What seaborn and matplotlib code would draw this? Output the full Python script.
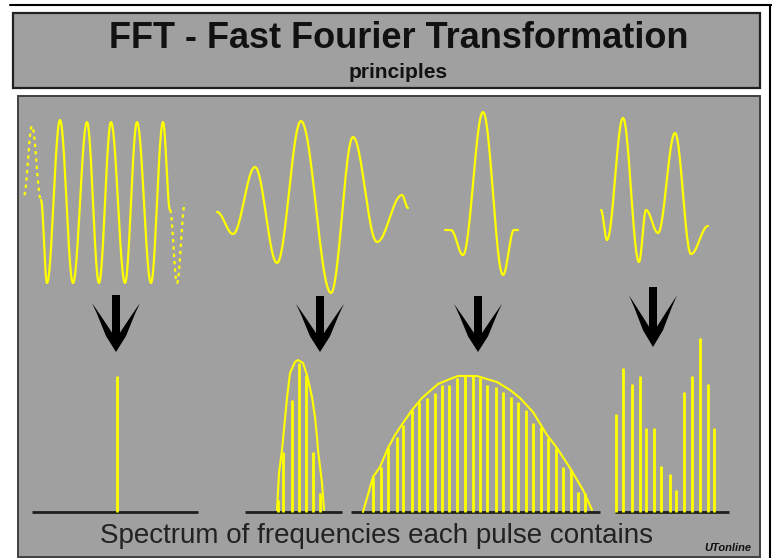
import numpy as np
import matplotlib
matplotlib.use("Agg")
import matplotlib.pyplot as plt
import seaborn as sns
import pandas as pd

# --- data (pixel units, y grows downward) ---

# pulse 1: pure sine, extremes of the solid part and the dotted continuations
wave1_x = [41, 47, 60, 73, 87, 99, 111, 125, 137, 151, 163, 170]
wave1_y = [200, 283, 120, 283, 122, 283, 122, 283, 122, 283, 122, 210]
wave1_left_x = [24, 32, 41]
wave1_left_y = [195, 126, 200]
wave1_right_x = [170, 177, 185]
wave1_right_y = [210, 283, 203]

# pulse 2: wave packet
wave2_x = [217, 233, 255, 277, 301, 331, 353, 377, 402, 408]
wave2_y = [212, 234, 167, 263, 121, 293, 137, 242, 195, 208]

# pulse 3: short pulse
wave3_x = [445, 451, 463, 483, 503, 514, 518]
wave3_y = [230, 230, 255, 112, 275, 230, 230]

# pulse 4: mixed pulse
wave4_x = [601, 607, 623, 639, 646, 658, 675, 691, 708]
wave4_y = [210, 240, 118, 262, 210, 233, 133, 254, 226]

# arrows (centre x, top y, tip y)
arrow_x = [116, 320, 478, 653]
arrow_top = [295, 296, 296, 287]
arrow_tip = [352, 352, 352, 347]

# spectra
baseline_y = 512
base_start = [32, 245, 351, 615]
base_end = [198, 342, 600, 729]

spec1_x = [117]
spec1_top = [376]

spec2_x = [278, 283, 292, 299, 306, 313, 320]
spec2_top = [500, 452, 400, 363, 375, 452, 493]
env2_x = [277, 279, 282, 287, 290, 295, 298, 303, 307, 312, 315, 317, 318, 322, 324]
env2_y = [510, 473, 450, 398, 373, 362, 360, 363, 375, 397, 417, 437, 450, 483, 510]

spec3_x = [373, 381, 388, 397, 403, 412, 419, 427, 435, 442, 449, 457, 465, 473, 480,
           487, 496, 503, 511, 518, 526, 533, 541, 548, 556, 563, 571, 578, 585]
spec3_top = [477, 467, 448, 437, 425, 410, 402, 398, 393, 385, 385, 378, 376, 376, 378,
             385, 387, 392, 397, 402, 410, 423, 427, 438, 448, 467, 470, 492, 493]
env3_x = [363, 373, 380, 388, 395, 403, 412, 422, 438, 450, 458, 467, 477, 480, 497,
          510, 520, 533, 547, 557, 570, 583, 592]
env3_y = [512, 477, 467, 448, 435, 423, 410, 398, 384, 379, 376, 376, 376, 377, 382,
          390, 398, 412, 435, 448, 468, 490, 510]

spec4_x = [616, 623, 632, 640, 646, 654, 661, 670, 676, 684, 692, 700, 708, 714]
spec4_top = [414, 368, 384, 376, 428, 428, 466, 474, 490, 392, 376, 338, 384, 428]

GRAY = "#a0a0a0"
YELLOW = "#ffff00"


def smooth(xs, ys, n=24):
    # half-cosine easing between consecutive extremes of a drawn wave
    px, py = [], []
    for i in range(len(xs) - 1):
        t = np.linspace(0, 1, n, endpoint=False)
        px.extend(xs[i] + (xs[i + 1] - xs[i]) * t)
        py.extend(ys[i] + (ys[i + 1] - ys[i]) * (1 - np.cos(np.pi * t)) / 2)
    px.append(xs[-1])
    py.append(ys[-1])
    return pd.DataFrame({"x": px, "y": py})


sns.set_style("white")
fig = plt.figure(figsize=(7.72, 5.58), dpi=100)
ax = fig.add_axes([0, 0, 1, 1])
ax.set_xlim(0, 772)
ax.set_ylim(558, 0)
ax.axis("off")

# frame pieces
ax.plot([10, 772], [5, 5], color="black", lw=1.5)
ax.plot([770, 770], [5, 558], color="black", lw=1.5)
ax.add_patch(plt.Rectangle((13, 13), 747, 75, facecolor=GRAY, edgecolor="#202020", lw=1.6))
ax.add_patch(plt.Rectangle((18, 96), 742, 461, facecolor=GRAY, edgecolor="#404040", lw=1.4))

ax.text(399, 38, "FFT - Fast Fourier Transformation", ha="center", va="center",
        fontsize=26, fontweight="bold", family="Liberation Sans", color="#111111")
ax.text(398, 72, "principles", ha="center", va="center",
        fontsize=15, fontweight="bold", family="Liberation Sans", color="#111111")

# waves
for wx, wy in [(wave1_x, wave1_y), (wave2_x, wave2_y), (wave3_x, wave3_y), (wave4_x, wave4_y)]:
    sns.lineplot(data=smooth(wx, wy), x="x", y="y", sort=False, estimator=None,
                 color=YELLOW, lw=1.6, ax=ax)
for wx, wy in [(wave1_left_x, wave1_left_y), (wave1_right_x, wave1_right_y)]:
    sns.lineplot(data=smooth(wx, wy), x="x", y="y", sort=False, estimator=None,
                 color=YELLOW, lw=1.6, ax=ax, linestyle=(0, (1.5, 1.8)))

# arrows
for cx, top, tip in zip(arrow_x, arrow_top, arrow_tip):
    h = tip - top
    wing = top + 0.14 * h
    join = top + 0.66 * h
    px = [cx - 4, cx - 4, cx - 15, cx - 24, cx - 19, cx - 10, cx,
          cx + 10, cx + 19, cx + 24, cx + 15, cx + 4, cx + 4]
    py = [top, join, top + 0.37 * h, wing, top + 0.33 * h, top + 0.72 * h, tip,
          top + 0.72 * h, top + 0.33 * h, wing, top + 0.37 * h, join, top]
    ax.fill(px, py, color="black", lw=0)

# baselines
ax.hlines([baseline_y] * len(base_start), base_start, base_end, color="#202020", lw=2)

# spectrum bars
for bx, bt in [(spec1_x, spec1_top), (spec2_x, spec2_top), (spec3_x, spec3_top), (spec4_x, spec4_top)]:
    ax.vlines(bx, bt, [baseline_y] * len(bx), color=YELLOW, lw=2)

# envelopes
for ex, ey in [(env2_x, env2_y), (env3_x, env3_y)]:
    sns.lineplot(x=ex, y=ey, sort=False, estimator=None, color=YELLOW, lw=1.5, ax=ax)

ax.text(376, 536, "Spectrum of frequencies each pulse contains", ha="center", va="center",
        fontsize=20, family="Liberation Sans", color="#222222")
ax.text(728, 548, "UTonline", ha="center", va="center", fontsize=8,
        fontweight="bold", fontstyle="italic", family="Liberation Sans", color="#111111")

ax.set_xlim(0, 772)
ax.set_ylim(558, 0)
fig.savefig("out.png", dpi=100)
